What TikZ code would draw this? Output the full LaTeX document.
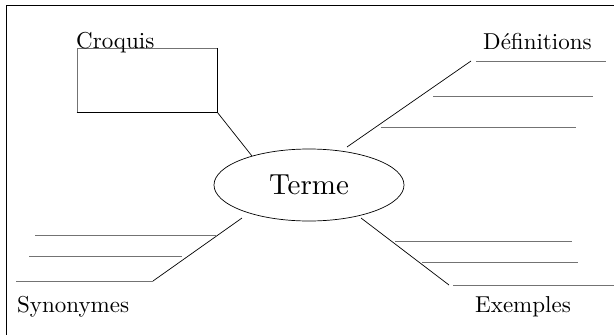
\documentclass[tikz,border=0pt]{standalone}
\usepackage{fontspec}
\newfontfamily\lmten{lmroman10-regular}[Extension=.otf]
\usetikzlibrary{shapes.geometric}
\tikzset{
  label/.style={anchor=base west, inner sep=0pt, font=\lmten\fontsize{23}{28}\selectfont},
  rule/.style={draw=black!55, line width=0.9pt},
  link/.style={draw=black, line width=0.7pt}
}
\begin{document}
\begin{tikzpicture}[x=1pt, y=-1pt]
      \useasboundingbox (0,0) rectangle (614,335);
      \draw[line width=0.9pt] (6,335) -- (6,5) -- (614,5);
      \draw
        (309,185) node[ellipse, draw, line width=0.7pt, minimum width=190pt, minimum height=72pt,
          inner sep=0pt, font=\lmten\fontsize{29}{35}\selectfont] (terme){Terme}
        (147,80) node[draw=black!55, line width=0.8pt, minimum width=140pt, minimum height=64pt] (sketch){}
        (76,48) node[label] (croquis){Croquis}
        (483,49) node[label] (definitions){Définitions}
        (17,312) node[label] (synonymes){Synonymes}
        (475,312) node[label] (exemples){Exemples};
      \draw[line width=0.8pt] (sketch.south west) -- (sketch.south east) -- (sketch.north east);
      % writing lines
      \coordinate (d1) at (476,61);  \coordinate (d1e) at (606,61);
      \coordinate (d2) at (433,96);  \coordinate (d2e) at (593,96);
      \coordinate (d3) at (381,127); \coordinate (d3e) at (576,127);
      \coordinate (s1) at (35,235);  \coordinate (s1e) at (216,235);
      \coordinate (s2) at (29,256);  \coordinate (s2e) at (182,256);
      \coordinate (s3) at (16,281);  \coordinate (s3e) at (153,281);
      \coordinate (e1) at (395,241); \coordinate (e1e) at (572,241);
      \coordinate (e2) at (422,262); \coordinate (e2e) at (578,262);
      \coordinate (e3) at (453,285); \coordinate (e3e) at (614,285);
      \begin{scope}[rule]
        \draw (d1) to (d1e);
        \draw (d2) to (d2e);
        \draw (d3) to (d3e);
        \draw (s1) to (s1e);
        \draw (s2) to (s2e);
        \draw (s3) to (s3e);
        \draw (e1) to (e1e);
        \draw (e2) to (e2e);
        \draw (e3) to (e3e);
      \end{scope}
      % branches
      \coordinate (td) at (347,147);
      \coordinate (ts) at (242,218);
      \coordinate (te) at (361,218);
      \begin{scope}[link]
        \draw (sketch.south east) to (terme.153);
        \draw (td) to ([xshift=-5pt]d1);
        \draw (ts) to (s3e);
        \draw (te) to ([xshift=-4pt]e3);
      \end{scope}
    \end{tikzpicture}
\end{document}
